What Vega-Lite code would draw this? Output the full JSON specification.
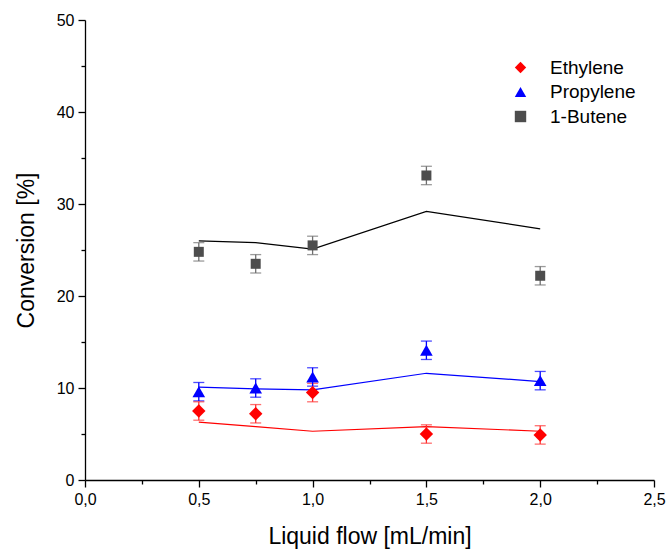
{
  "$schema": "https://vega.github.io/schema/vega-lite/v6.json",
  "width": 569,
  "height": 460,
  "autosize": {"type": "none"},
  "padding": {"left": 85, "top": 20, "right": 13, "bottom": 69},
  "background": "white",
  "config": {
    "view": {"stroke": null},
    "font": "Liberation Sans",
    "axis": {
      "domainColor": "black",
      "domainWidth": 1.3,
      "tickColor": "black",
      "tickWidth": 1.3,
      "grid": false,
      "labelFont": "Liberation Sans",
      "labelFontSize": 16,
      "labelColor": "black",
      "titleFont": "Liberation Sans",
      "titleFontSize": 23,
      "titleFontWeight": "normal",
      "titleColor": "black"
    },
    "legend": {"labelFont": "Liberation Sans", "labelFontSize": 19, "labelColor": "black"}
  },
  "data": {
    "values": [
      {"flow": 0.5, "gas": "Ethylene", "conv": 7.5, "err": 1.0, "model": 6.3},
      {"flow": 0.75, "gas": "Ethylene", "conv": 7.2, "err": 1.0, "model": 5.8},
      {"flow": 1.0, "gas": "Ethylene", "conv": 9.5, "err": 1.0, "model": 5.3},
      {"flow": 1.5, "gas": "Ethylene", "conv": 5.0, "err": 1.0, "model": 5.8},
      {"flow": 2.0, "gas": "Ethylene", "conv": 4.9, "err": 1.0, "model": 5.3},
      {"flow": 0.5, "gas": "Propylene", "conv": 9.6, "err": 1.0, "model": 10.1},
      {"flow": 0.75, "gas": "Propylene", "conv": 10.0, "err": 1.0, "model": 9.9},
      {"flow": 1.0, "gas": "Propylene", "conv": 11.2, "err": 1.0, "model": 9.8},
      {"flow": 1.5, "gas": "Propylene", "conv": 14.1, "err": 1.0, "model": 11.6},
      {"flow": 2.0, "gas": "Propylene", "conv": 10.8, "err": 1.0, "model": 10.7},
      {"flow": 0.5, "gas": "1-Butene", "conv": 24.8, "err": 1.0, "model": 26.0},
      {"flow": 0.75, "gas": "1-Butene", "conv": 23.5, "err": 1.0, "model": 25.8},
      {"flow": 1.0, "gas": "1-Butene", "conv": 25.5, "err": 1.0, "model": 25.1},
      {"flow": 1.5, "gas": "1-Butene", "conv": 33.1, "err": 1.0, "model": 29.2},
      {"flow": 2.0, "gas": "1-Butene", "conv": 22.2, "err": 1.0, "model": 27.3}
    ]
  },
  "encoding": {
    "x": {
      "field": "flow",
      "type": "quantitative",
      "scale": {"domain": [0, 2.5], "nice": false, "zero": false},
      "axis": {
        "title": "Liquid flow [mL/min]",
        "values": [0, 0.25, 0.5, 0.75, 1.0, 1.25, 1.5, 1.75, 2.0, 2.25, 2.5],
        "labelExpr": "round(datum.value*4) % 2 == 0 ? replace(format(datum.value, '.1f'), '.', ',') : ''",
        "tickSize": {"condition": {"test": "round(datum.value*4) % 2 == 0", "value": 7}, "value": 4},
        "labelPadding": 4,
        "titlePadding": 18,
        "labelFlush": false
      }
    }
  },
  "layer": [
    {
      "mark": {"type": "line", "strokeWidth": 1.2},
      "encoding": {
        "y": {
          "field": "model",
          "type": "quantitative",
          "title": "Conversion [%]",
          "scale": {"domain": [0, 50], "nice": false},
          "axis": {
            "title": "Conversion [%]",
            "values": [0, 5, 10, 15, 20, 25, 30, 35, 40, 45, 50],
            "labelExpr": "datum.value % 10 == 0 ? datum.label : ''",
            "tickSize": {"condition": {"test": "datum.value % 10 == 0", "value": 7}, "value": 4},
            "labelPadding": 4,
            "titlePadding": 18
          }
        },
        "color": {
          "condition": [
            {"test": "datum.gas == 'Ethylene'", "value": "#ff0000"},
            {"test": "datum.gas == 'Propylene'", "value": "#0000ff"}
          ],
          "value": "#000000"
        },
        "detail": {"field": "gas"}
      }
    },
    {
      "mark": {"type": "errorbar", "ticks": {"size": 11, "thickness": 1.3}, "thickness": 1.3},
      "encoding": {
        "y": {"field": "conv", "type": "quantitative", "title": "Conversion [%]", "scale": {"domain": [0, 50], "nice": false}},
        "yError": {"field": "err"},
        "detail": {"field": "gas"},
        "color": {
          "condition": [
            {"test": "datum.gas == 'Ethylene'", "value": "#ff3030"},
            {"test": "datum.gas == 'Propylene'", "value": "#0000ff"}
          ],
          "value": "#707070"
        }
      }
    },
    {
      "mark": {"type": "point", "filled": true, "opacity": 1, "strokeWidth": 0},
      "encoding": {
        "y": {"field": "conv", "type": "quantitative", "title": "Conversion [%]", "scale": {"domain": [0, 50], "nice": false}},
        "color": {
          "field": "gas",
          "type": "nominal",
          "scale": {"domain": ["Ethylene", "Propylene", "1-Butene"], "range": ["#ff0000", "#0000ff", "#4d4d4d"]},
          "legend": {
            "title": null,
            "orient": "none",
            "legendX": 426,
            "legendY": 38,
            "rowPadding": 4.5,
            "labelOffset": 20,
            "symbolSize": 130,
            "symbolStrokeWidth": 0,
            "encode": {"symbols": {"update": {"size": {"signal": "datum.value == '1-Butene' ? 90 : datum.value == 'Ethylene' ? 170 : 150"}}}}
          }
        },
        "shape": {
          "field": "gas",
          "type": "nominal",
          "scale": {"domain": ["Ethylene", "Propylene", "1-Butene"], "range": ["diamond", "triangle-up", "square"]},
          "legend": {
            "title": null,
            "orient": "none",
            "legendX": 426,
            "legendY": 38,
            "rowPadding": 4.5,
            "labelOffset": 20,
            "symbolSize": 130,
            "symbolStrokeWidth": 0,
            "encode": {"symbols": {"update": {"size": {"signal": "datum.value == '1-Butene' ? 90 : datum.value == 'Ethylene' ? 170 : 150"}}}}
          }
        },
        "size": {
          "condition": [
            {"test": "datum.gas == 'Ethylene'", "value": 180},
            {"test": "datum.gas == 'Propylene'", "value": 160}
          ],
          "value": 100
        }
      }
    }
  ]
}
